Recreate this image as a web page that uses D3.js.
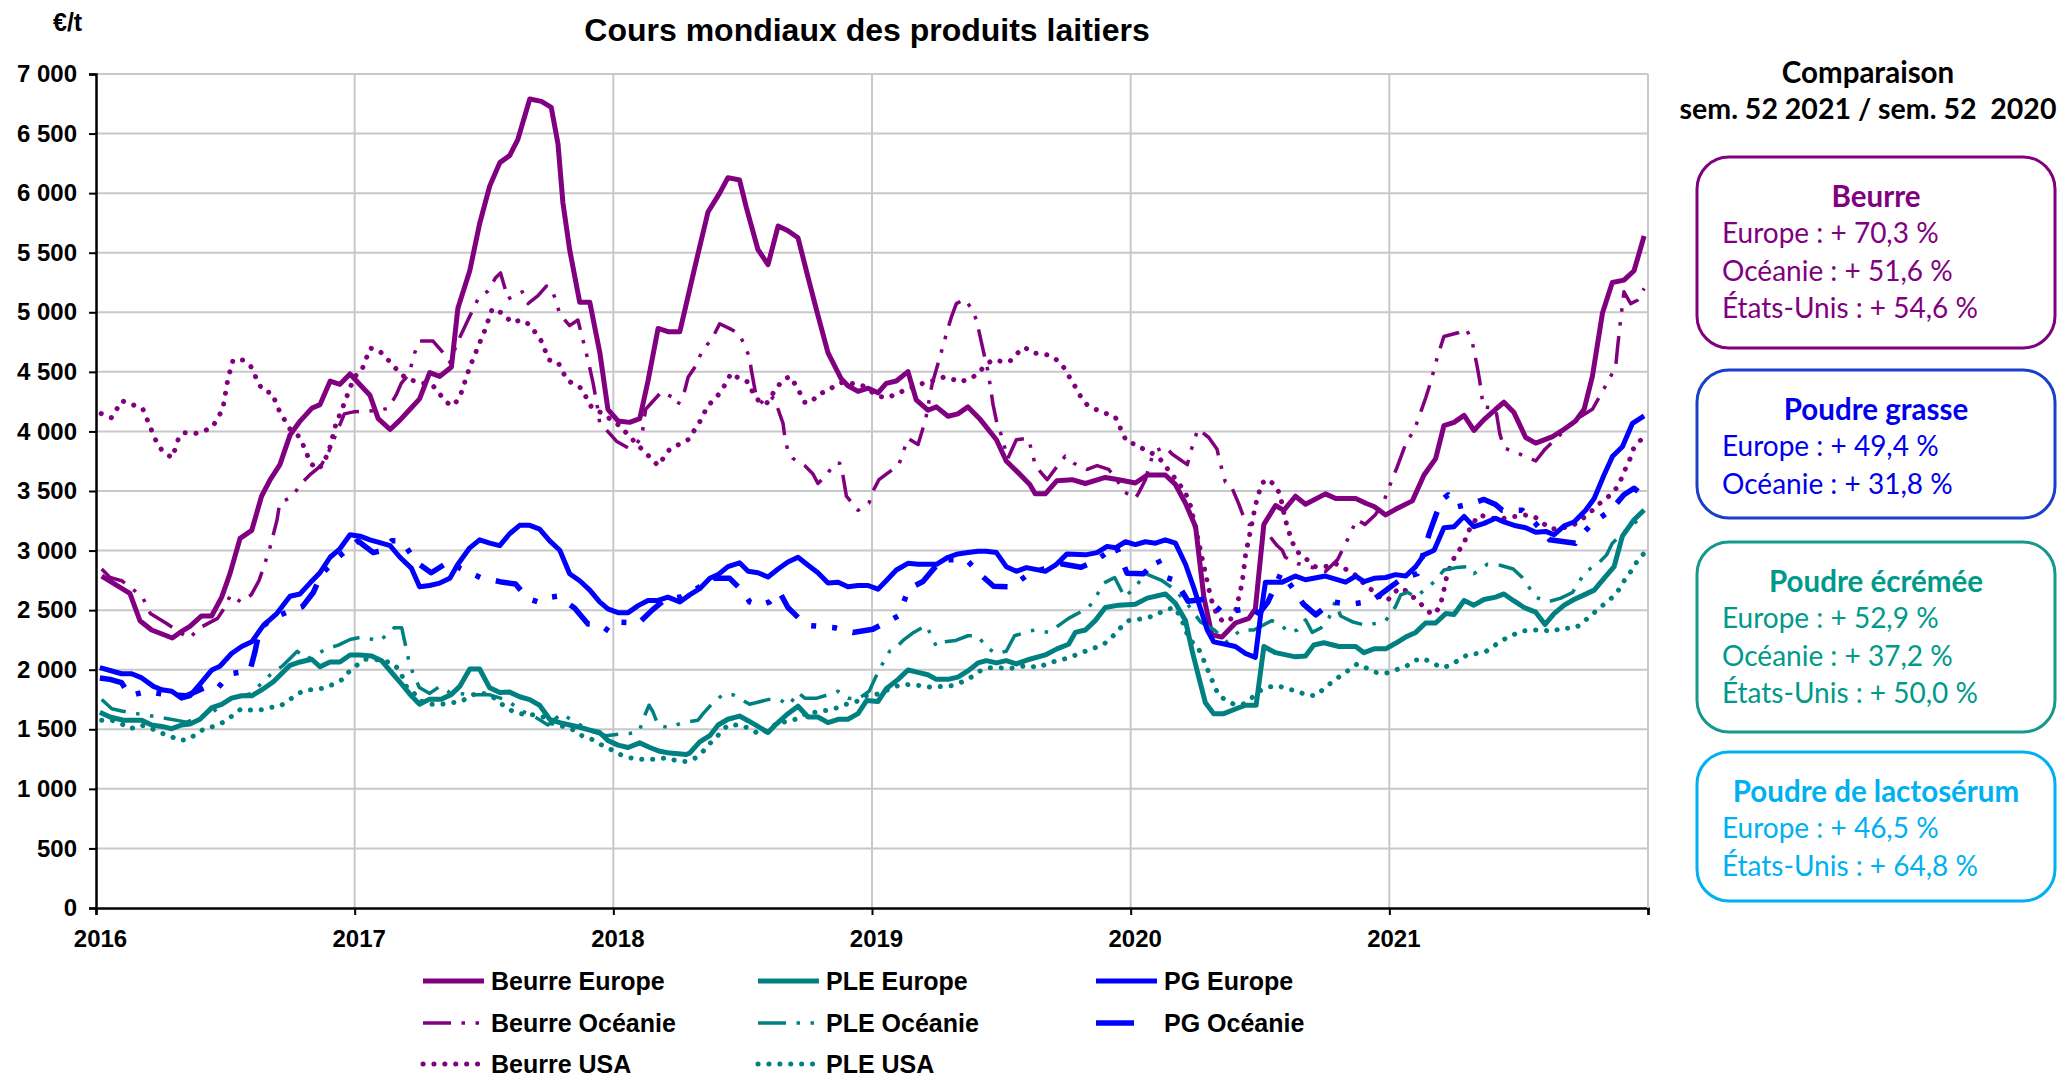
<!DOCTYPE html>
<html>
<head>
<meta charset="utf-8">
<script src="https://cdn.jsdelivr.net/npm/d3@7"></script>
<style>
  body { margin: 0; background: #fff; }
  svg { display: block; }
</style>
</head>
<body>
<script>
// ---- data (year as decimal, value in €/t) ----
var years = [2016, 2017, 2018, 2019, 2020, 2021, 2022];
var yTicks = [0, 500, 1000, 1500, 2000, 2500, 3000, 3500, 4000, 4500, 5000, 5500, 6000, 6500, 7000];

var beurreEurope = [[2016.022,2786],[2016.131,2640],[2016.170,2411],[2016.215,2333],[2016.295,2266],[2016.325,2313],[2016.363,2364],[2016.408,2451],[2016.447,2451],[2016.486,2609],[2016.518,2806],[2016.557,3102],[2016.602,3169],[2016.640,3456],[2016.673,3594],[2016.711,3721],[2016.750,3969],[2016.789,4087],[2016.834,4194],[2016.866,4225],[2016.905,4422],[2016.943,4395],[2016.982,4482],[2017.059,4304],[2017.091,4107],[2017.137,4016],[2017.175,4095],[2017.214,4186],[2017.251,4273],[2017.290,4494],[2017.329,4462],[2017.374,4541],[2017.399,5034],[2017.445,5349],[2017.483,5743],[2017.522,6059],[2017.561,6256],[2017.599,6315],[2017.631,6452],[2017.677,6790],[2017.722,6770],[2017.760,6720],[2017.786,6414],[2017.805,5921],[2017.831,5527],[2017.870,5085],[2017.909,5085],[2017.948,4659],[2017.979,4186],[2018.018,4088],[2018.063,4076],[2018.102,4107],[2018.134,4423],[2018.173,4864],[2018.211,4837],[2018.257,4837],[2018.314,5369],[2018.366,5842],[2018.411,6000],[2018.443,6130],[2018.488,6110],[2018.514,5881],[2018.559,5527],[2018.598,5400],[2018.637,5724],[2018.675,5685],[2018.714,5625],[2018.753,5290],[2018.791,4975],[2018.830,4659],[2018.881,4442],[2018.907,4383],[2018.946,4336],[2018.985,4363],[2019.023,4324],[2019.055,4403],[2019.094,4423],[2019.139,4502],[2019.171,4265],[2019.216,4178],[2019.249,4206],[2019.294,4127],[2019.332,4147],[2019.371,4206],[2019.416,4107],[2019.481,3930],[2019.519,3752],[2019.567,3650],[2019.610,3555],[2019.631,3476],[2019.670,3476],[2019.715,3587],[2019.773,3595],[2019.825,3563],[2019.902,3614],[2019.954,3595],[2020.018,3567],[2020.064,3634],[2020.134,3634],[2020.173,3555],[2020.212,3397],[2020.251,3200],[2020.283,2609],[2020.314,2293],[2020.353,2274],[2020.405,2392],[2020.457,2431],[2020.482,2510],[2020.515,3220],[2020.560,3378],[2020.592,3338],[2020.637,3456],[2020.676,3389],[2020.753,3476],[2020.793,3437],[2020.870,3437],[2020.909,3397],[2020.941,3370],[2020.986,3299],[2021.024,3346],[2021.089,3417],[2021.134,3634],[2021.179,3772],[2021.211,4048],[2021.250,4076],[2021.289,4135],[2021.327,4008],[2021.366,4099],[2021.411,4186],[2021.443,4245],[2021.482,4158],[2021.527,3949],[2021.566,3902],[2021.631,3957],[2021.669,4008],[2021.720,4087],[2021.753,4186],[2021.785,4462],[2021.824,4994],[2021.862,5250],[2021.907,5270],[2021.946,5349],[2021.985,5640]];

var beurreOceanie = [[2016.022,2845],[2016.054,2774],[2016.099,2747],[2016.140,2680],[2016.180,2609],[2016.210,2471],[2016.270,2392],[2016.360,2262],[2016.400,2350],[2016.470,2431],[2016.500,2530],[2016.520,2628],[2016.560,2569],[2016.600,2628],[2016.630,2747],[2016.670,3003],[2016.700,3259],[2016.710,3397],[2016.760,3456],[2016.790,3555],[2016.830,3642],[2016.870,3713],[2016.900,3831],[2016.930,3989],[2016.960,4147],[2017.000,4166],[2017.050,4170],[2017.100,4180],[2017.130,4194],[2017.160,4304],[2017.180,4403],[2017.210,4482],[2017.232,4659],[2017.251,4758],[2017.303,4758],[2017.335,4679],[2017.368,4580],[2017.400,4760],[2017.438,4935],[2017.477,5112],[2017.516,5180],[2017.545,5290],[2017.564,5330],[2017.593,5112],[2017.619,5144],[2017.648,5172],[2017.670,5073],[2017.709,5140],[2017.741,5220],[2017.760,5204],[2017.780,5085],[2017.793,4982],[2017.831,4888],[2017.863,4935],[2017.889,4711],[2017.902,4600],[2017.922,4403],[2017.940,4186],[2017.947,4076],[2018.012,3918],[2018.057,3863],[2018.092,3902],[2018.110,3960],[2018.125,4186],[2018.186,4332],[2018.231,4285],[2018.250,4225],[2018.276,4344],[2018.289,4454],[2018.318,4549],[2018.340,4659],[2018.386,4797],[2018.411,4904],[2018.456,4856],[2018.488,4817],[2018.527,4620],[2018.533,4521],[2018.553,4285],[2018.585,4225],[2018.617,4284],[2018.637,4186],[2018.656,4068],[2018.662,3969],[2018.675,3831],[2018.695,3772],[2018.740,3713],[2018.772,3642],[2018.791,3563],[2018.824,3634],[2018.856,3733],[2018.875,3733],[2018.888,3626],[2018.901,3457],[2018.946,3338],[2018.988,3397],[2019.006,3508],[2019.027,3595],[2019.075,3673],[2019.104,3721],[2019.139,3942],[2019.178,3890],[2019.207,4099],[2019.233,4403],[2019.262,4620],[2019.290,4837],[2019.306,4955],[2019.326,5073],[2019.358,5110],[2019.384,5034],[2019.404,4935],[2019.416,4817],[2019.436,4620],[2019.449,4501],[2019.468,4225],[2019.483,4068],[2019.500,3969],[2019.525,3772],[2019.558,3930],[2019.603,3942],[2019.619,3831],[2019.631,3713],[2019.677,3595],[2019.715,3705],[2019.747,3792],[2019.780,3733],[2019.832,3681],[2019.870,3713],[2019.915,3681],[2019.945,3600],[2019.973,3496],[2020.018,3437],[2020.031,3484],[2020.057,3595],[2020.089,3831],[2020.134,3870],[2020.160,3811],[2020.219,3721],[2020.232,3831],[2020.260,4020],[2020.302,3949],[2020.334,3851],[2020.344,3752],[2020.366,3575],[2020.386,3555],[2020.420,3380],[2020.444,3240],[2020.457,3220],[2020.509,3200],[2020.566,3042],[2020.586,3003],[2020.598,2944],[2020.644,2892],[2020.700,2860],[2020.753,2825],[2020.800,2924],[2020.840,3100],[2020.874,3260],[2020.906,3220],[2020.945,3299],[2020.976,3397],[2020.996,3515],[2021.030,3700],[2021.066,3910],[2021.096,4008],[2021.122,4166],[2021.141,4285],[2021.160,4415],[2021.173,4521],[2021.186,4628],[2021.211,4797],[2021.269,4830],[2021.298,4860],[2021.321,4746],[2021.340,4541],[2021.349,4430],[2021.357,4312],[2021.362,4206],[2021.411,4194],[2021.427,3981],[2021.443,3862],[2021.482,3831],[2021.566,3752],[2021.602,3851],[2021.650,3950],[2021.720,4100],[2021.785,4186],[2021.836,4383],[2021.875,4541],[2021.882,4699],[2021.888,4817],[2021.894,4935],[2021.907,5172],[2021.933,5073],[2021.959,5101],[2021.985,5200]];

var beurreUSA = [[2016.020,4150],[2016.060,4115],[2016.100,4257],[2016.140,4225],[2016.180,4194],[2016.210,4036],[2016.240,3878],[2016.270,3811],[2016.295,3780],[2016.320,3949],[2016.340,3989],[2016.380,3981],[2016.415,4001],[2016.450,4036],[2016.490,4186],[2016.510,4442],[2016.530,4600],[2016.567,4600],[2016.600,4541],[2016.630,4395],[2016.650,4336],[2016.680,4324],[2016.710,4166],[2016.750,4020],[2016.780,3969],[2016.800,3890],[2016.830,3733],[2016.857,3681],[2016.875,3721],[2016.900,3831],[2016.927,4060],[2016.956,4214],[2016.985,4383],[2017.008,4482],[2017.030,4529],[2017.060,4700],[2017.094,4680],[2017.121,4620],[2017.148,4553],[2017.175,4494],[2017.200,4442],[2017.303,4383],[2017.354,4245],[2017.380,4214],[2017.406,4285],[2017.445,4541],[2017.503,4848],[2017.532,5030],[2017.574,4990],[2017.606,4915],[2017.644,4935],[2017.677,4896],[2017.722,4758],[2017.751,4600],[2017.786,4580],[2017.821,4430],[2017.876,4363],[2017.915,4206],[2017.960,4147],[2018.024,4048],[2018.089,3898],[2018.147,3772],[2018.173,3713],[2018.218,3851],[2018.289,3930],[2018.331,4068],[2018.366,4218],[2018.398,4284],[2018.424,4363],[2018.456,4490],[2018.488,4442],[2018.521,4415],[2018.540,4324],[2018.566,4245],[2018.592,4233],[2018.630,4363],[2018.656,4430],[2018.682,4462],[2018.707,4383],[2018.740,4245],[2018.766,4245],[2018.791,4312],[2018.824,4336],[2018.856,4383],[2018.888,4415],[2018.920,4403],[2018.959,4391],[2018.991,4344],[2019.023,4296],[2019.062,4284],[2019.094,4316],[2019.133,4352],[2019.171,4383],[2019.210,4415],[2019.243,4430],[2019.275,4454],[2019.307,4442],[2019.339,4415],[2019.378,4442],[2019.410,4482],[2019.436,4553],[2019.466,4600],[2019.501,4588],[2019.533,4588],[2019.559,4651],[2019.591,4706],[2019.619,4659],[2019.655,4651],[2019.689,4639],[2019.722,4588],[2019.747,4521],[2019.767,4442],[2019.786,4375],[2019.806,4296],[2019.831,4225],[2019.864,4186],[2019.900,4154],[2019.939,4127],[2019.954,4060],[2019.969,3981],[2019.986,3910],[2020.024,3890],[2020.057,3839],[2020.089,3811],[2020.115,3764],[2020.147,3673],[2020.180,3583],[2020.212,3484],[2020.231,3378],[2020.260,3100],[2020.290,2800],[2020.310,2600],[2020.335,2450],[2020.360,2400],[2020.385,2420],[2020.405,2490],[2020.431,2727],[2020.444,2964],[2020.457,3102],[2020.470,3240],[2020.482,3378],[2020.506,3563],[2020.528,3599],[2020.557,3552],[2020.577,3473],[2020.598,3259],[2020.617,3121],[2020.637,3003],[2020.660,2964],[2020.714,2865],[2020.753,2865],[2020.790,2893],[2020.863,2806],[2020.915,2695],[2020.947,2648],[2020.973,2589],[2020.996,2589],[2021.018,2648],[2021.044,2688],[2021.076,2648],[2021.104,2581],[2021.134,2530],[2021.160,2471],[2021.179,2471],[2021.199,2557],[2021.211,2668],[2021.224,2806],[2021.241,2893],[2021.257,2971],[2021.282,3035],[2021.298,3113],[2021.314,3200],[2021.347,3299],[2021.386,3279],[2021.424,3259],[2021.457,3279],[2021.489,3287],[2021.521,3299],[2021.560,3287],[2021.592,3232],[2021.628,3180],[2021.669,3192],[2021.701,3200],[2021.734,3247],[2021.766,3299],[2021.795,3358],[2021.824,3417],[2021.856,3468],[2021.882,3535],[2021.899,3614],[2021.914,3693],[2021.931,3772],[2021.943,3851],[2021.969,3922],[2021.990,3960]];

var pleEurope = [[2016.015,1643],[2016.054,1603],[2016.106,1576],[2016.177,1576],[2016.215,1536],[2016.254,1524],[2016.293,1505],[2016.331,1536],[2016.363,1544],[2016.402,1584],[2016.448,1682],[2016.486,1710],[2016.524,1761],[2016.563,1781],[2016.602,1781],[2016.647,1840],[2016.686,1899],[2016.750,2037],[2016.789,2065],[2016.834,2088],[2016.866,2025],[2016.905,2065],[2016.943,2065],[2016.982,2124],[2017.021,2124],[2017.066,2116],[2017.104,2076],[2017.150,1958],[2017.182,1879],[2017.219,1781],[2017.251,1710],[2017.290,1753],[2017.335,1753],[2017.374,1793],[2017.406,1860],[2017.445,2006],[2017.483,2006],[2017.522,1848],[2017.561,1808],[2017.599,1812],[2017.638,1773],[2017.677,1749],[2017.715,1702],[2017.754,1584],[2017.793,1556],[2017.831,1536],[2017.870,1517],[2017.909,1493],[2017.947,1473],[2017.979,1406],[2018.018,1367],[2018.057,1347],[2018.102,1386],[2018.141,1347],[2018.180,1315],[2018.219,1300],[2018.282,1288],[2018.295,1300],[2018.334,1394],[2018.373,1446],[2018.405,1536],[2018.443,1584],[2018.488,1611],[2018.521,1572],[2018.559,1524],[2018.598,1473],[2018.630,1544],[2018.675,1631],[2018.714,1694],[2018.753,1603],[2018.791,1603],[2018.830,1556],[2018.869,1584],[2018.907,1584],[2018.946,1631],[2018.979,1741],[2019.023,1733],[2019.055,1840],[2019.101,1919],[2019.139,1998],[2019.178,1978],[2019.216,1958],[2019.249,1919],[2019.294,1919],[2019.332,1938],[2019.371,1990],[2019.410,2057],[2019.442,2076],[2019.481,2057],[2019.519,2076],[2019.558,2049],[2019.610,2088],[2019.670,2124],[2019.715,2175],[2019.760,2214],[2019.786,2313],[2019.825,2333],[2019.863,2412],[2019.902,2522],[2019.954,2542],[2020.018,2550],[2020.064,2601],[2020.134,2636],[2020.173,2558],[2020.212,2412],[2020.238,2155],[2020.264,1931],[2020.289,1722],[2020.321,1631],[2020.360,1631],[2020.405,1670],[2020.444,1702],[2020.485,1702],[2020.515,2195],[2020.560,2143],[2020.637,2108],[2020.676,2116],[2020.708,2207],[2020.747,2226],[2020.805,2195],[2020.870,2195],[2020.902,2143],[2020.941,2175],[2020.986,2175],[2021.024,2222],[2021.063,2274],[2021.102,2313],[2021.140,2392],[2021.179,2392],[2021.218,2471],[2021.250,2463],[2021.289,2581],[2021.327,2542],[2021.366,2589],[2021.411,2609],[2021.443,2636],[2021.482,2577],[2021.521,2522],[2021.566,2483],[2021.602,2380],[2021.637,2471],[2021.676,2542],[2021.714,2589],[2021.753,2628],[2021.792,2668],[2021.830,2766],[2021.869,2865],[2021.901,3121],[2021.946,3259],[2021.985,3340]];

var pleOceanie = [[2016.022,1750],[2016.061,1672],[2016.099,1653],[2016.151,1633],[2016.250,1600],[2016.350,1560],[2016.450,1640],[2016.512,1751],[2016.600,1800],[2016.683,1978],[2016.720,2030],[2016.778,2155],[2016.814,2088],[2016.892,2175],[2016.937,2207],[2016.982,2254],[2017.027,2274],[2017.098,2242],[2017.152,2352],[2017.182,2352],[2017.213,2037],[2017.250,1850],[2017.290,1801],[2017.329,1860],[2017.368,1808],[2017.450,1790],[2017.522,1789],[2017.584,1749],[2017.650,1650],[2017.700,1600],[2017.747,1536],[2017.799,1631],[2017.860,1550],[2017.920,1480],[2017.973,1446],[2018.012,1457],[2018.063,1465],[2018.100,1480],[2018.115,1584],[2018.138,1702],[2018.154,1643],[2018.173,1532],[2018.218,1513],[2018.263,1552],[2018.327,1576],[2018.347,1631],[2018.380,1710],[2018.424,1793],[2018.463,1789],[2018.527,1710],[2018.598,1749],[2018.643,1749],[2018.679,1702],[2018.714,1808],[2018.740,1761],[2018.787,1761],[2018.830,1790],[2018.869,1820],[2018.907,1761],[2018.946,1753],[2018.989,1820],[2019.010,1919],[2019.032,2017],[2019.068,2155],[2019.088,2175],[2019.120,2246],[2019.161,2313],[2019.210,2372],[2019.249,2195],[2019.281,2234],[2019.324,2246],[2019.371,2285],[2019.410,2285],[2019.442,2187],[2019.481,2136],[2019.519,2155],[2019.551,2285],[2019.610,2325],[2019.631,2333],[2019.683,2313],[2019.722,2372],[2019.760,2431],[2019.838,2522],[2019.870,2628],[2019.896,2727],[2019.938,2774],[2019.977,2609],[2020.020,2700],[2020.057,2806],[2020.122,2747],[2020.173,2668],[2020.220,2550],[2020.270,2400],[2020.324,2333],[2020.372,2234],[2020.425,2333],[2020.476,2333],[2020.546,2412],[2020.580,2380],[2020.611,2313],[2020.644,2333],[2020.676,2419],[2020.702,2313],[2020.735,2350],[2020.766,2431],[2020.790,2569],[2020.812,2451],[2020.860,2400],[2020.909,2372],[2020.954,2392],[2020.986,2412],[2021.024,2530],[2021.044,2628],[2021.070,2650],[2021.102,2609],[2021.179,2747],[2021.211,2837],[2021.260,2857],[2021.302,2865],[2021.327,2806],[2021.379,2885],[2021.428,2877],[2021.479,2845],[2021.514,2774],[2021.566,2609],[2021.611,2569],[2021.663,2601],[2021.708,2648],[2021.759,2826],[2021.801,2877],[2021.840,2964],[2021.862,3062],[2021.920,3180],[2021.985,3300]];

var pleUSA = [[2016.022,1576],[2016.061,1576],[2016.099,1544],[2016.134,1505],[2016.173,1536],[2016.209,1513],[2016.245,1473],[2016.284,1446],[2016.322,1406],[2016.361,1418],[2016.389,1465],[2016.425,1513],[2016.460,1524],[2016.496,1564],[2016.528,1615],[2016.560,1670],[2016.595,1662],[2016.634,1662],[2016.673,1682],[2016.711,1694],[2016.744,1741],[2016.776,1793],[2016.812,1832],[2016.847,1832],[2016.885,1848],[2016.918,1879],[2016.954,1919],[2016.976,1978],[2017.008,2037],[2017.040,2088],[2017.075,2088],[2017.111,2076],[2017.143,2057],[2017.174,1998],[2017.200,1860],[2017.226,1812],[2017.251,1741],[2017.290,1710],[2017.335,1710],[2017.374,1722],[2017.413,1733],[2017.445,1781],[2017.483,1808],[2017.522,1789],[2017.554,1741],[2017.584,1682],[2017.619,1643],[2017.658,1623],[2017.690,1623],[2017.729,1603],[2017.760,1552],[2017.805,1524],[2017.838,1505],[2017.870,1453],[2017.909,1426],[2017.945,1378],[2017.979,1347],[2018.012,1300],[2018.051,1268],[2018.089,1248],[2018.128,1248],[2018.167,1248],[2018.205,1260],[2018.244,1237],[2018.282,1229],[2018.318,1260],[2018.347,1315],[2018.379,1394],[2018.405,1450],[2018.443,1536],[2018.494,1536],[2018.533,1497],[2018.566,1457],[2018.604,1505],[2018.637,1556],[2018.675,1564],[2018.714,1591],[2018.753,1643],[2018.791,1643],[2018.830,1662],[2018.869,1682],[2018.901,1710],[2018.940,1733],[2018.978,1781],[2019.017,1793],[2019.049,1820],[2019.081,1852],[2019.120,1879],[2019.156,1871],[2019.191,1867],[2019.229,1852],[2019.272,1860],[2019.311,1867],[2019.350,1899],[2019.384,1938],[2019.414,1986],[2019.453,2017],[2019.492,2017],[2019.530,2009],[2019.572,2025],[2019.604,2037],[2019.638,2017],[2019.677,2049],[2019.715,2076],[2019.754,2096],[2019.793,2128],[2019.825,2155],[2019.861,2183],[2019.896,2214],[2019.928,2274],[2019.961,2352],[2019.993,2412],[2020.031,2423],[2020.070,2439],[2020.106,2471],[2020.142,2510],[2020.173,2518],[2020.199,2412],[2020.212,2333],[2020.228,2254],[2020.263,2175],[2020.283,2076],[2020.302,1978],[2020.321,1879],[2020.341,1781],[2020.366,1749],[2020.399,1710],[2020.434,1710],[2020.467,1761],[2020.496,1820],[2020.528,1852],[2020.567,1867],[2020.606,1840],[2020.642,1820],[2020.679,1789],[2020.715,1781],[2020.747,1840],[2020.780,1899],[2020.812,1950],[2020.844,1998],[2020.876,2049],[2020.909,2017],[2020.947,1978],[2020.986,1970],[2021.024,1998],[2021.063,2025],[2021.095,2076],[2021.130,2096],[2021.166,2057],[2021.202,2017],[2021.237,2037],[2021.272,2088],[2021.305,2128],[2021.340,2136],[2021.375,2155],[2021.409,2207],[2021.443,2254],[2021.479,2293],[2021.514,2325],[2021.553,2333],[2021.592,2333],[2021.631,2321],[2021.669,2352],[2021.705,2344],[2021.736,2372],[2021.766,2431],[2021.798,2490],[2021.830,2550],[2021.863,2609],[2021.886,2668],[2021.908,2747],[2021.934,2826],[2021.953,2893],[2021.972,2952],[2021.990,2985]];

var pgEurope = [[2016.015,2017],[2016.099,1966],[2016.138,1966],[2016.177,1931],[2016.222,1860],[2016.254,1832],[2016.293,1820],[2016.331,1761],[2016.363,1781],[2016.402,1879],[2016.448,1998],[2016.479,2029],[2016.524,2136],[2016.563,2195],[2016.602,2234],[2016.647,2372],[2016.699,2471],[2016.750,2617],[2016.789,2636],[2016.827,2727],[2016.866,2814],[2016.905,2944],[2016.943,3015],[2016.982,3133],[2017.021,3121],[2017.059,3090],[2017.104,3062],[2017.137,3042],[2017.175,2944],[2017.219,2853],[2017.251,2696],[2017.290,2707],[2017.329,2727],[2017.368,2767],[2017.399,2885],[2017.445,3023],[2017.483,3090],[2017.522,3062],[2017.561,3042],[2017.599,3141],[2017.638,3212],[2017.677,3212],[2017.715,3180],[2017.754,3082],[2017.793,3003],[2017.831,2806],[2017.870,2747],[2017.909,2668],[2017.947,2569],[2017.979,2510],[2018.018,2479],[2018.057,2479],[2018.096,2538],[2018.134,2581],[2018.173,2581],[2018.211,2609],[2018.257,2569],[2018.295,2628],[2018.334,2680],[2018.373,2767],[2018.405,2798],[2018.443,2865],[2018.488,2897],[2018.521,2826],[2018.559,2814],[2018.598,2778],[2018.637,2845],[2018.675,2904],[2018.714,2944],[2018.753,2877],[2018.791,2814],[2018.830,2727],[2018.869,2735],[2018.907,2696],[2018.946,2707],[2018.985,2707],[2019.023,2676],[2019.055,2747],[2019.094,2837],[2019.139,2893],[2019.178,2885],[2019.249,2885],[2019.294,2944],[2019.332,2972],[2019.371,2983],[2019.410,2995],[2019.442,2995],[2019.481,2983],[2019.519,2865],[2019.558,2826],[2019.597,2857],[2019.670,2826],[2019.709,2877],[2019.754,2972],[2019.825,2964],[2019.870,2983],[2019.909,3035],[2019.941,3023],[2019.980,3074],[2020.018,3050],[2020.057,3074],[2020.096,3062],[2020.134,3090],[2020.173,3062],[2020.212,2885],[2020.244,2688],[2020.276,2471],[2020.296,2333],[2020.321,2234],[2020.366,2214],[2020.405,2195],[2020.444,2136],[2020.482,2104],[2020.502,2451],[2020.521,2735],[2020.586,2735],[2020.637,2786],[2020.676,2755],[2020.753,2786],[2020.831,2735],[2020.870,2786],[2020.902,2739],[2020.941,2767],[2020.986,2774],[2021.024,2798],[2021.063,2786],[2021.102,2865],[2021.134,2964],[2021.173,3003],[2021.211,3192],[2021.250,3200],[2021.289,3287],[2021.327,3200],[2021.366,3228],[2021.411,3271],[2021.443,3240],[2021.489,3208],[2021.527,3192],[2021.566,3153],[2021.605,3161],[2021.637,3133],[2021.676,3208],[2021.714,3240],[2021.759,3338],[2021.792,3437],[2021.830,3634],[2021.863,3792],[2021.901,3871],[2021.940,4068],[2021.985,4130]];

var pgOceanie = [[2016.015,1931],[2016.054,1919],[2016.099,1891],[2016.131,1781],[2016.196,1820],[2016.273,1789],[2016.350,1781],[2016.400,1830],[2016.441,1867],[2016.473,1852],[2016.518,1966],[2016.595,1990],[2016.615,2155],[2016.634,2352],[2016.700,2450],[2016.798,2530],[2016.840,2648],[2016.873,2806],[2016.940,2950],[2017.012,3082],[2017.072,2983],[2017.111,3003],[2017.143,3082],[2017.182,3082],[2017.240,2900],[2017.296,2814],[2017.368,2912],[2017.406,2853],[2017.486,2774],[2017.561,2739],[2017.622,2719],[2017.670,2597],[2017.709,2569],[2017.731,2601],[2017.786,2617],[2017.850,2518],[2017.902,2384],[2017.947,2380],[2017.982,2325],[2018.024,2400],[2018.099,2392],[2018.150,2500],[2018.200,2590],[2018.260,2610],[2018.330,2690],[2018.372,2767],[2018.450,2767],[2018.501,2656],[2018.527,2569],[2018.566,2538],[2018.604,2569],[2018.643,2650],[2018.675,2522],[2018.727,2412],[2018.753,2372],[2018.856,2352],[2018.926,2313],[2019.003,2340],[2019.068,2412],[2019.101,2451],[2019.143,2680],[2019.197,2740],[2019.268,2924],[2019.365,2924],[2019.416,2806],[2019.470,2700],[2019.539,2695],[2019.607,2805],[2019.677,2855],[2019.730,2890],[2019.808,2860],[2019.866,2915],[2019.943,3040],[2019.986,2810],[2020.050,2806],[2020.104,2930],[2020.137,2775],[2020.173,2750],[2020.222,2575],[2020.298,2595],[2020.354,2480],[2020.428,2505],[2020.460,2520],[2020.496,2472],[2020.530,2565],[2020.582,2815],[2020.628,2680],[2020.668,2550],[2020.716,2460],[2020.777,2569],[2020.850,2550],[2020.930,2575],[2021.050,2767],[2021.108,2806],[2021.155,3148],[2021.200,3418],[2021.227,3468],[2021.260,3366],[2021.319,3397],[2021.366,3429],[2021.411,3386],[2021.437,3338],[2021.514,3338],[2021.568,3220],[2021.620,3090],[2021.720,3062],[2021.740,3129],[2021.792,3240],[2021.856,3338],[2021.907,3468],[2021.946,3523],[2021.985,3457]];

var seriesNames = ["Beurre Europe", "Beurre Océanie", "Beurre USA", "PLE Europe", "PLE Océanie", "PLE USA", "PG Europe", "PG Océanie"];

var boxTitles = ["Beurre", "Poudre grasse", "Poudre écrémée", "Poudre de lactosérum"];
var boxLines = [
    ["Europe : + 70,3 %", "Océanie : + 51,6 %", "États-Unis : + 54,6 %"],
    ["Europe : + 49,4 %", "Océanie : + 31,8 %"],
    ["Europe : + 52,9 %", "Océanie : + 37,2 %", "États-Unis : + 50,0 %"],
    ["Europe : + 46,5 %", "États-Unis : + 64,8 %"]
];

// ---- layout ----
var svgWidth = 2058;
var svgHeight = 1079;

var margin = {
    top: 74,
    right: 410,
    bottom: 171,
    left: 96
};

var width = svgWidth - margin.left - margin.right;
var height = svgHeight - margin.top - margin.bottom;

var purple = "#800080", teal = "#008080", blue = "#0000ff";
var axisFont = "'Liberation Sans', Arial, sans-serif";
var panelFont = "Lato, 'Open Sans', sans-serif";

var svg = d3.select("body")
    .append("svg")
    .attr("width", svgWidth)
    .attr("height", svgHeight);

var chartGroup = svg.append("g")
    .attr("transform", `translate(${margin.left}, ${margin.top})`);

var xScale = d3.scaleLinear().domain([2016, 2022]).range([0, width]);
var yScale = d3.scaleLinear().domain([0, 7000]).range([height, 0]);

var fr = d3.formatLocale({decimal: ",", thousands: " ", grouping: [3], currency: ["", " €"]});
var fmt = fr.format(",d");

// grid
chartGroup.append("g")
    .selectAll("line.h")
    .data(yTicks.filter(d => d > 0))
    .enter().append("line")
    .attr("x1", 0).attr("x2", width)
    .attr("y1", d => yScale(d)).attr("y2", d => yScale(d))
    .attr("stroke", "#c8c8c8").attr("stroke-width", 2);

chartGroup.append("g")
    .selectAll("line.v")
    .data(years.slice(1))
    .enter().append("line")
    .attr("x1", d => xScale(d)).attr("x2", d => xScale(d))
    .attr("y1", 0).attr("y2", height)
    .attr("stroke", "#c8c8c8").attr("stroke-width", 2);

// series
var series = [
    {name: seriesNames[0], data: beurreEurope, color: purple, w: 5, dash: null},
    {name: seriesNames[1], data: beurreOceanie, color: purple, w: 3.5, dash: "28,10.5,3.5,10.5,3.5,10.5"},
    {name: seriesNames[2], data: beurreUSA, color: purple, w: 5, dash: "0.1,10.8", cap: "round"},
    {name: seriesNames[3], data: pleEurope, color: teal, w: 5, dash: null},
    {name: seriesNames[4], data: pleOceanie, color: teal, w: 3.5, dash: "28,10.5,3.5,10.5,3.5,10.5"},
    {name: seriesNames[5], data: pleUSA, color: teal, w: 5, dash: "0.1,10.8", cap: "round"},
    {name: seriesNames[6], data: pgEurope, color: blue, w: 5, dash: null},
    {name: seriesNames[7], data: pgOceanie, color: blue, w: 5.5, dash: "28,16,5,16,5,16"}
];

var line = d3.line()
    .x(d => xScale(d[0]))
    .y(d => yScale(d[1]));

series.forEach(function(s) {
    chartGroup.append("path")
        .attr("d", line(s.data))
        .attr("fill", "none")
        .attr("stroke", s.color)
        .attr("stroke-width", s.w)
        .attr("stroke-linejoin", "round")
        .attr("stroke-linecap", s.cap || "butt")
        .attr("stroke-dasharray", s.dash);
});

// axes
var leftAxis = d3.axisLeft(yScale)
    .tickValues(yTicks)
    .tickSize(7)
    .tickPadding(12)
    .tickFormat(fmt);

var bottomAxis = d3.axisBottom(xScale)
    .tickValues(years)
    .tickSize(7)
    .tickPadding(15)
    .tickFormat(d => d < 2022 ? d : "");

var yAxisG = chartGroup.append("g").call(leftAxis);
var xAxisG = chartGroup.append("g")
    .attr("transform", `translate(0, ${height})`)
    .call(bottomAxis);

[yAxisG, xAxisG].forEach(function(g) {
    g.select(".domain").attr("stroke", "#000").attr("stroke-width", 2.5);
    g.selectAll(".tick line").attr("stroke", "#000").attr("stroke-width", 2);
    g.selectAll("text")
        .attr("fill", "#000")
        .style("font-family", axisFont)
        .style("font-weight", "bold")
        .style("font-size", "24px");
});
xAxisG.selectAll("text").attr("dx", 4);

// right border line of the plot
chartGroup.append("line")
    .attr("x1", width).attr("x2", width)
    .attr("y1", 0).attr("y2", height)
    .attr("stroke", "#c8c8c8").attr("stroke-width", 2);

// titles
svg.append("text")
    .attr("x", 867).attr("y", 41)
    .attr("text-anchor", "middle")
    .style("font-family", axisFont).style("font-weight", "bold").style("font-size", "32px")
    .text("Cours mondiaux des produits laitiers");

svg.append("text")
    .attr("x", 53).attr("y", 31)
    .style("font-family", axisFont).style("font-weight", "bold").style("font-size", "25px")
    .text("€/t");

// legend
var legendCols = [423, 758, 1096];
var legendRows = [981, 1023, 1064];
var legendG = svg.append("g");
series.forEach(function(s, i) {
    var cx = legendCols[Math.floor(i / 3)];
    var cy = legendRows[i % 3];
    var len = (i === 7) ? 38 : 61;
    legendG.append("line")
        .attr("x1", cx).attr("x2", cx + len)
        .attr("y1", cy).attr("y2", cy)
        .attr("stroke", s.color)
        .attr("stroke-width", s.w)
        .attr("stroke-linecap", s.cap || "butt")
        .attr("stroke-dasharray", i === 7 ? null : s.dash);
    legendG.append("text")
        .attr("x", cx + 68).attr("y", cy + 9)
        .style("font-family", axisFont).style("font-weight", "bold").style("font-size", "25px")
        .text(s.name);
});

// right panel
var panel = svg.append("g").style("font-family", panelFont);
panel.append("text")
    .attr("x", 1868).attr("y", 83)
    .attr("text-anchor", "middle")
    .style("font-weight", "bold").style("font-size", "29.5px")
    .text("Comparaison");
panel.append("text")
    .attr("x", 1868).attr("y", 119)
    .attr("text-anchor", "middle")
    .style("font-weight", "bold").style("font-size", "28.5px")
    .style("white-space", "pre")
    .text("sem. 52 2021 / sem. 52  2020");

var boxTops = [157, 370, 542, 752];
var boxHeights = [191, 148, 190, 149];
var boxColors = ["#800080", "#1a3fcc", "#14998a", "#00b0f0"];
var boxTextColors = ["#800080", "#0000ee", "#00998a", "#00b0f0"];

boxTitles.forEach(function(t, i) {
    var g = panel.append("g");
    g.append("rect")
        .attr("x", 1697).attr("y", boxTops[i])
        .attr("width", 358).attr("height", boxHeights[i])
        .attr("rx", 32).attr("ry", 32)
        .attr("fill", "none")
        .attr("stroke", boxColors[i])
        .attr("stroke-width", 3);
    g.append("text")
        .attr("x", 1876).attr("y", boxTops[i] + 50)
        .attr("text-anchor", "middle")
        .attr("fill", boxTextColors[i])
        .style("font-weight", "bold").style("font-size", "29.5px")
        .text(t);
    boxLines[i].forEach(function(l, j) {
        g.append("text")
            .attr("x", 1722).attr("y", boxTops[i] + 86 + j * 37.5)
            .attr("fill", boxTextColors[i])
            .style("font-size", "28px")
            .text(l);
    });
});
</script>
</body>
</html>
